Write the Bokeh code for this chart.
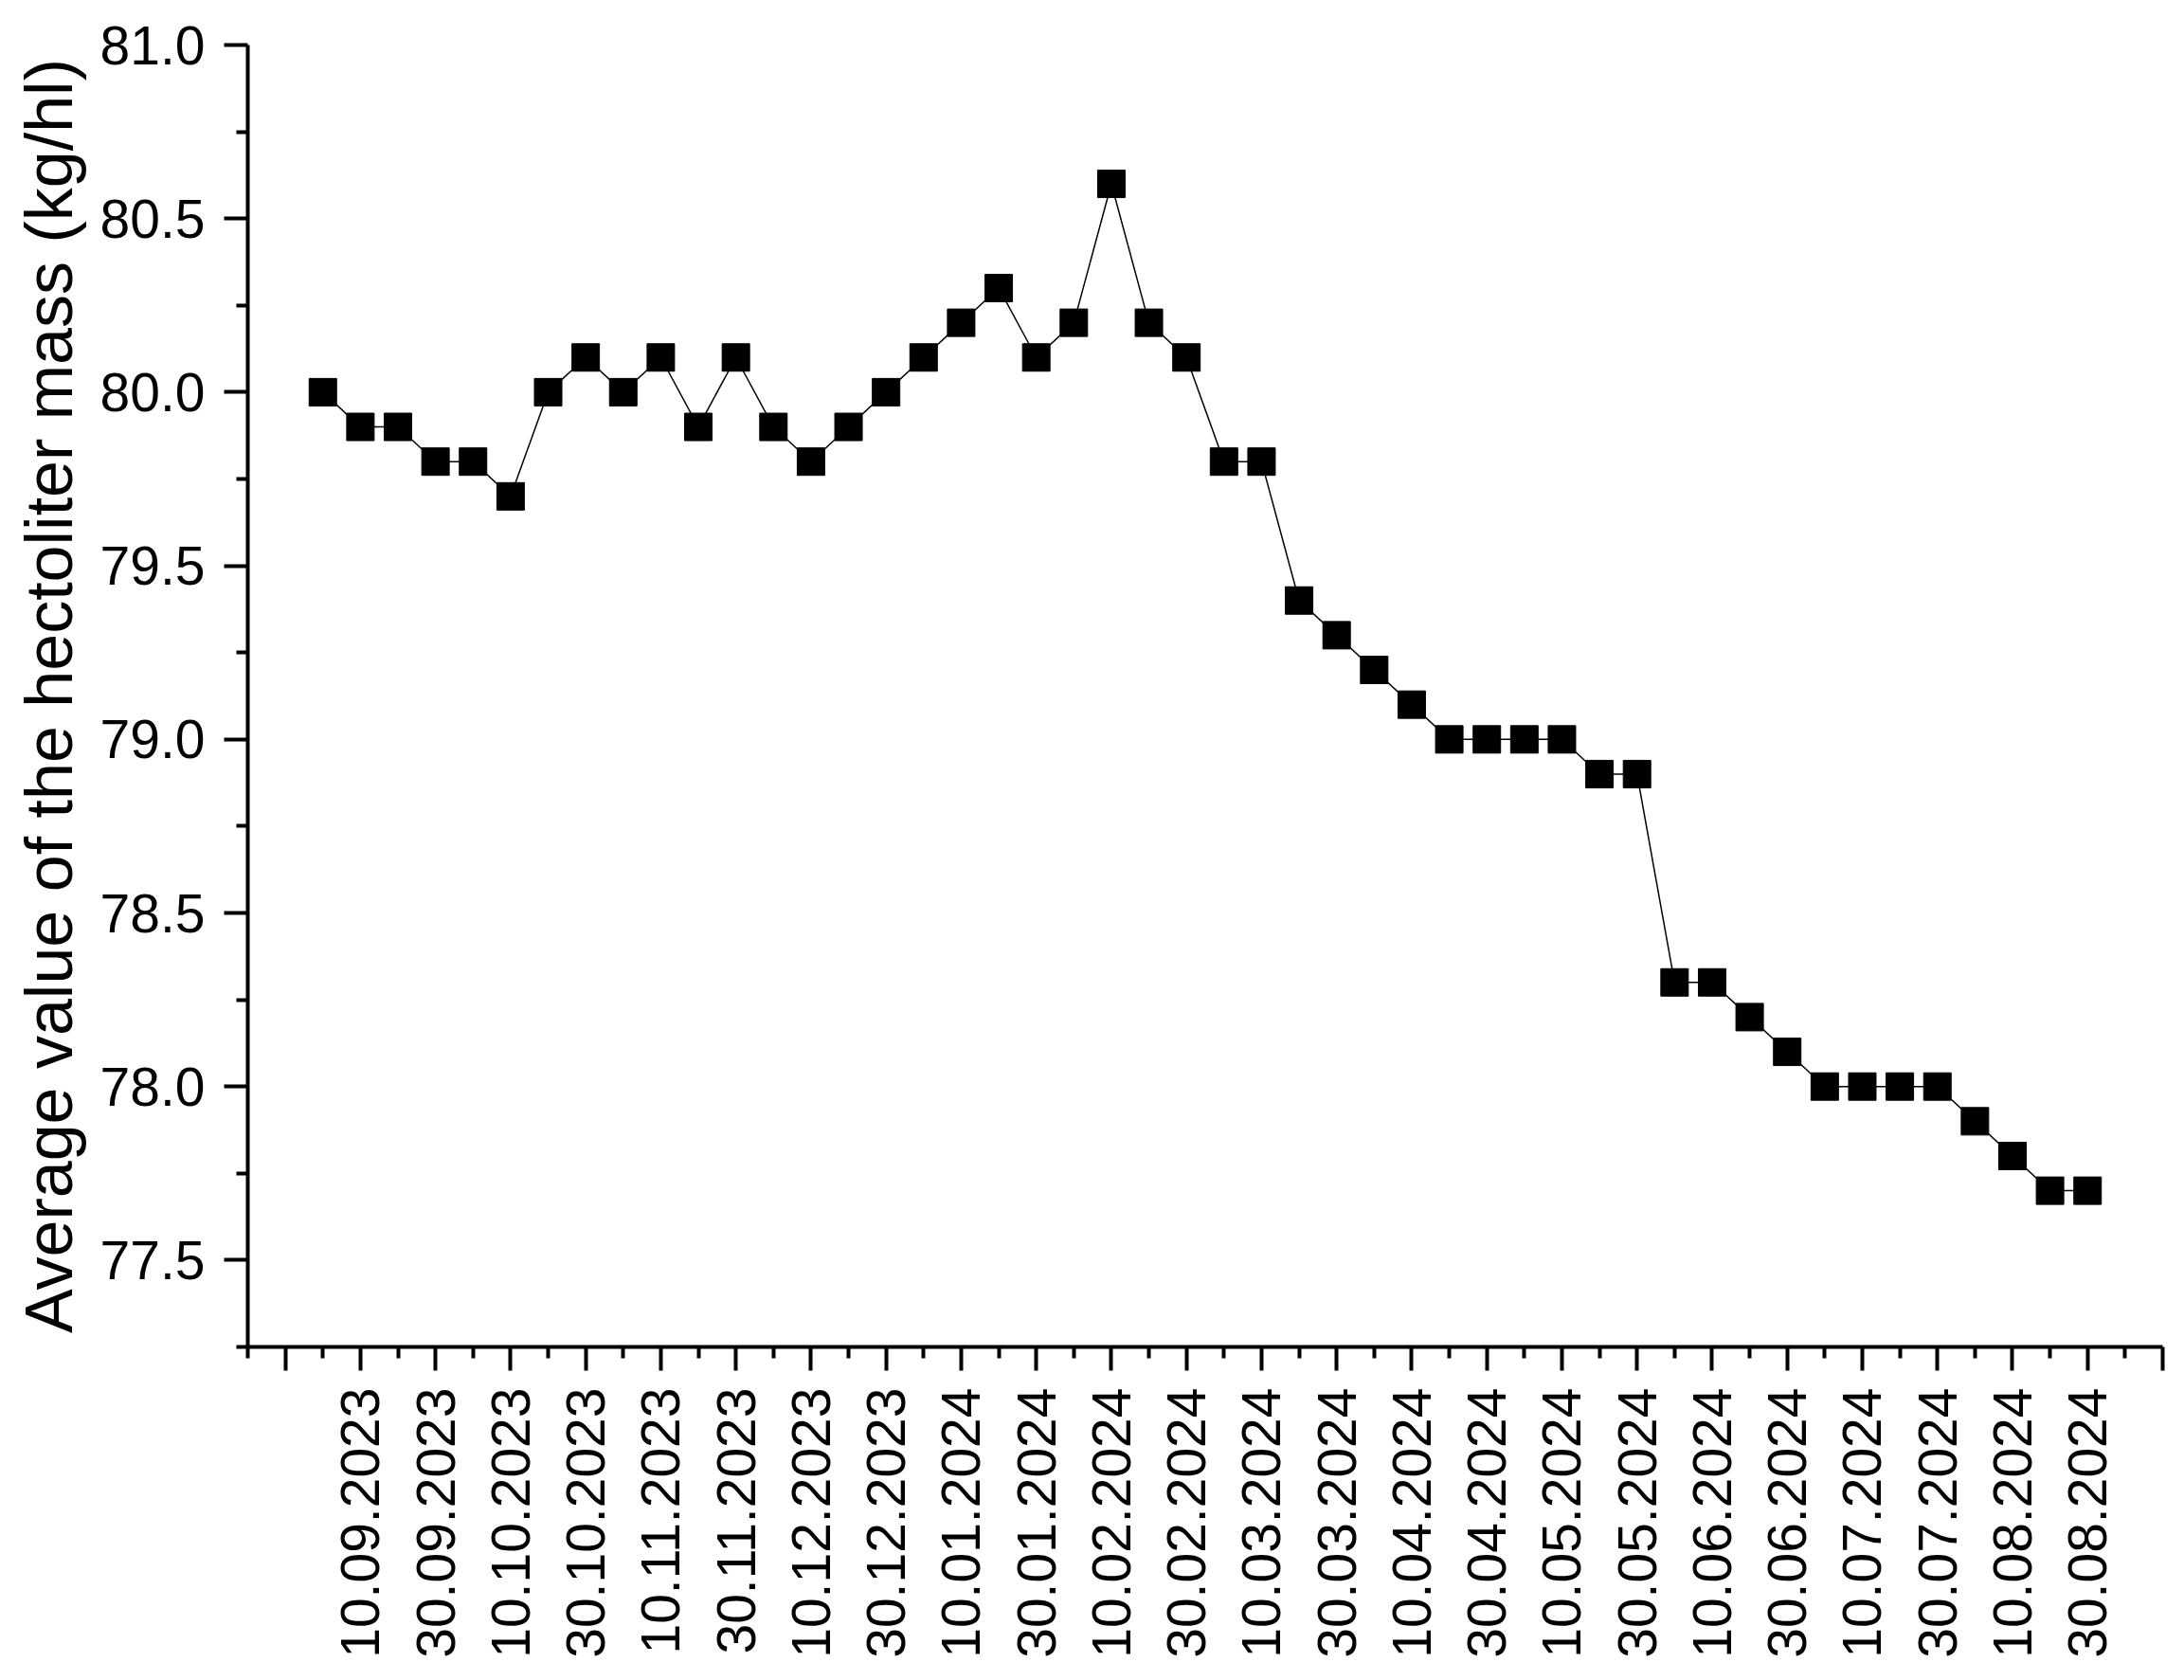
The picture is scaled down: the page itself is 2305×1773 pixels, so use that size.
import math
from bokeh.plotting import figure
from bokeh.models import Range1d, FixedTicker, PrintfTickFormatter, ColumnDataSource
from bokeh.embed import file_html
from bokeh.resources import INLINE

# positions (index along the sampling sequence)
idx = list(range(48))
values = [80.0, 79.9, 79.9, 79.8, 79.8, 79.7, 80.0, 80.1, 80.0, 80.1, 79.9, 80.1,
          79.9, 79.8, 79.9, 80.0, 80.1, 80.2, 80.3, 80.1, 80.2, 80.6, 80.2, 80.1,
          79.8, 79.8, 79.4, 79.3, 79.2, 79.1, 79.0, 79.0, 79.0, 79.0, 78.9, 78.9,
          78.3, 78.3, 78.2, 78.1, 78.0, 78.0, 78.0, 78.0, 77.9, 77.8, 77.7, 77.7]

tick_labels = ["10.09.2023", "30.09.2023", "10.10.2023", "30.10.2023", "10.11.2023",
               "30.11.2023", "10.12.2023", "30.12.2023", "10.01.2024", "30.01.2024",
               "10.02.2024", "30.02.2024", "10.03.2024", "30.03.2024", "10.04.2024",
               "30.04.2024", "10.05.2024", "30.05.2024", "10.06.2024", "30.06.2024",
               "10.07.2024", "30.07.2024", "10.08.2024", "30.08.2024"]
tick_pos = list(range(1, 48, 2))

y_major = [77.5, 78.0, 78.5, 79.0, 79.5, 80.0, 80.5, 81.0]
y_minor = [77.25, 77.75, 78.25, 78.75, 79.25, 79.75, 80.25, 80.75]

FONT = "Liberation Sans"

p = figure(width=2296, height=1764, output_backend="svg", toolbar_location=None,
           x_range=Range1d(-2, 49), y_range=Range1d(77.25, 81.0),
           min_border_left=261, min_border_right=14, min_border_top=47,
           min_border_bottom=343)
p.outline_line_color = None
p.xgrid.visible = False
p.ygrid.visible = False

src = ColumnDataSource(dict(x=idx, y=values))
p.line("x", "y", source=src, line_color="black", line_width=1.5)
p.scatter("x", "y", source=src, marker="square", size=29, fill_color="black",
          line_color="black")

xa = p.xaxis[0]
xa.ticker = FixedTicker(ticks=[-1] + tick_pos + [49], minor_ticks=list(range(-2, 49, 2)))
overrides = {-1: "", 49: ""}
for pos, lab in zip(tick_pos, tick_labels):
    overrides[pos] = lab
xa.major_label_overrides = overrides
xa.major_label_orientation = math.pi / 2

ya = p.yaxis[0]
ya.ticker = FixedTicker(ticks=y_major, minor_ticks=y_minor)
ya.formatter = PrintfTickFormatter(format="%.1f")
ya.axis_label = "Average value of the hectoliter mass (kg/hl)"
ya.axis_label_text_font = FONT
ya.axis_label_text_font_size = "70px"
ya.axis_label_text_font_style = "normal"
ya.axis_label_text_color = "black"
ya.axis_label_standoff = 12

for ax in (xa, ya):
    ax.axis_line_width = 4
    ax.axis_line_color = "black"
    ax.major_tick_line_width = 4
    ax.minor_tick_line_width = 4
    ax.major_tick_line_color = "black"
    ax.minor_tick_line_color = "black"
    ax.major_tick_in = 0
    ax.major_tick_out = 25
    ax.minor_tick_in = 0
    ax.minor_tick_out = 12
    ax.major_label_text_font = FONT
    ax.major_label_text_font_size = "57px"
    ax.major_label_text_color = "black"

xa.major_label_standoff = 18
ya.major_label_standoff = 20

open("out.html", "w").write(file_html(p, INLINE))
